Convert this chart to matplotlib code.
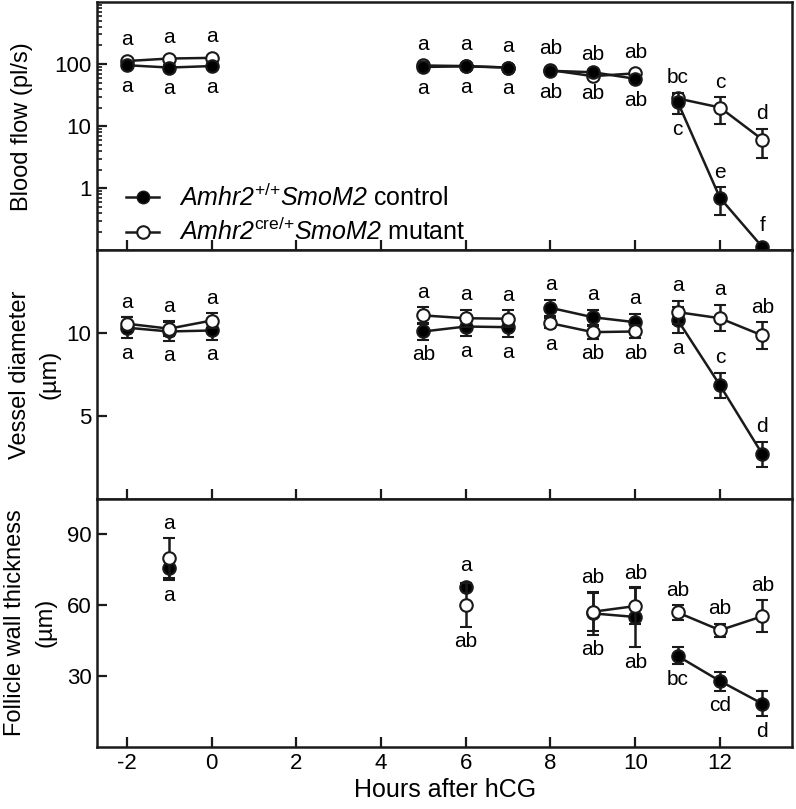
import numpy as np
import matplotlib.pyplot as plt
from matplotlib.lines import Line2D
from matplotlib.ticker import LogLocator, NullFormatter

plt.rcParams['font.family'] = 'Liberation Sans'
plt.rcParams['axes.unicode_minus'] = False
plt.rcParams['mathtext.fontset'] = 'custom'
plt.rcParams['mathtext.rm'] = 'Liberation Sans:italic'
plt.rcParams['mathtext.it'] = 'Liberation Sans:italic'
plt.rcParams['mathtext.sf'] = 'Liberation Sans'

# Blood flow / vessel diameter time points (hours after hCG)
hours = np.array([-2, -1, 0, 5, 6, 7, 8, 9, 10, 11, 12, 13])
hour_groups = np.array([0, 0, 0, 1, 1, 1, 2, 2, 2, 3, 3, 3])

# Blood flow (pl/s)
flow_ctrl = np.array([96, 88, 93, 90, 92, 88, 78, 74, 58, 24.7, 0.70, 0.113])
flow_ctrl_err = np.array([8, 8, 8, 6, 6, 6, 8, 7, 6, 9, 0.33, 0.01])
flow_mut = np.array([112, 123, 126, 95, 93, 88, 80, 64, 71, 28, 20, 6.1])
flow_mut_err = np.array([8, 8, 8, 6, 6, 6, 8, 7, 6, 4, 9, 3])
flow_ctrl_letters = ['a', 'a', 'a', 'a', 'a', 'a', 'ab', 'ab', 'ab', 'c', 'e', 'f']
flow_ctrl_side = ['b', 'b', 'b', 'b', 'b', 'b', 'b', 'b', 'b', 'b', 't', 't']
flow_mut_letters = ['a', 'a', 'a', 'a', 'a', 'a', 'ab', 'ab', 'ab', 'bc', 'c', 'd']
flow_mut_side = ['t'] * 12

# Vessel diameter (um)
diam_ctrl = np.array([10.33, 10.1, 10.16, 10.1, 10.4, 10.36, 11.53, 10.96, 10.66, 10.8, 6.85, 2.69])
diam_ctrl_err = np.array([0.65, 0.55, 0.55, 0.5, 0.6, 0.6, 0.5, 0.45, 0.5, 0.8, 0.74, 0.75])
diam_mut = np.array([10.57, 10.27, 10.76, 11.07, 10.9, 10.87, 10.6, 10.06, 10.1, 11.27, 10.9, 9.86])
diam_mut_err = np.array([0.4, 0.45, 0.45, 0.5, 0.5, 0.5, 0.3, 0.4, 0.4, 0.7, 0.8, 0.8])
diam_ctrl_letters = ['a', 'a', 'a', 'ab', 'a', 'a', 'a', 'a', 'a', 'a', 'c', 'd']
diam_ctrl_side = ['b', 'b', 'b', 'b', 'b', 'b', 't', 't', 't', 'b', 't', 't']
diam_mut_letters = ['a', 'a', 'a', 'a', 'a', 'a', 'a', 'ab', 'ab', 'a', 'a', 'ab']
diam_mut_side = ['t', 't', 't', 't', 't', 't', 'b', 'b', 'b', 't', 't', 't']

# Follicle wall thickness (um)
wall_hours = np.array([-1, 6, 9, 10, 11, 12, 13])
wall_groups = np.array([0, 1, 2, 2, 3, 3, 3])
wall_ctrl = np.array([75.6, 67.8, 56.5, 55, 38.5, 27.9, 18.3])
wall_ctrl_err = np.array([5, 1, 9, 12.7, 3.6, 4, 5.3])
wall_mut = np.array([79.8, 60, 57.2, 59.6, 56.9, 49.4, 55.3])
wall_mut_err = np.array([8.5, 9.2, 8, 7.5, 3.1, 2.8, 6.8])
wall_ctrl_letters = ['a', 'a', 'ab', 'ab', 'bc', 'cd', 'd']
wall_ctrl_side = ['b', 't', 'b', 'b', 'b', 'b', 'b']
wall_mut_letters = ['a', 'ab', 'ab', 'ab', 'ab', 'ab', 'ab']
wall_mut_side = ['t', 'b', 't', 't', 't', 't', 't']

ink = '#1a1a1a'
ms = 9
lw = 1.8


def draw_series(ax, x, y, err, groups, face, z):
    for g in np.unique(groups):
        sel = groups == g
        ax.errorbar(x[sel], y[sel], yerr=err[sel], fmt='-o', color=ink, mfc=face,
                    mec=ink, mew=1.5, ms=ms, lw=lw, elinewidth=lw, capsize=4,
                    capthick=lw, zorder=z, clip_on=False)


def add_letters(ax, x, y, err, letters, sides):
    fig.canvas.draw()
    for xi, yi, ei, txt, sd in zip(x, y, err, letters, sides):
        sign = 1 if sd == 't' else -1
        p0 = ax.transData.transform((xi, yi))[1]
        p1 = ax.transData.transform((xi, yi + sign * ei))[1]
        err_pt = abs(p1 - p0) * 72 / fig.dpi
        off = max(err_pt, ms / 2) + 4
        ax.annotate(txt, (xi, yi), xytext=(0, sign * off), textcoords='offset points',
                    ha='center', va='bottom' if sign > 0 else 'top', fontsize=15)


fig, axes = plt.subplots(3, 1, figsize=(7.96, 8.09), dpi=100, sharex=True)
fig.subplots_adjust(left=0.122, right=0.995, top=0.9975, bottom=0.0766, hspace=0)
ax1, ax2, ax3 = axes

ax1.set_yscale('log')
ax1.set_ylim(0.1, 1000)
ax1.set_yticks([1, 10, 100], ['1', '10', '100'])
ax1.yaxis.set_minor_locator(LogLocator(base=10, subs=np.arange(2, 10)))
ax1.yaxis.set_minor_formatter(NullFormatter())
ax2.set_ylim(0, 15)
ax2.set_yticks([5, 10])
ax3.set_ylim(0, 105)
ax3.set_yticks([30, 60, 90])
ax3.set_xlim(-2.7, 13.7)
ax3.set_xticks(np.arange(-2, 13, 2))

for ax in axes:
    for s in ax.spines.values():
        s.set_linewidth(1.8)
        s.set_color(ink)
    ax.tick_params(direction='in', length=7, width=1.6, labelsize=16, color=ink, pad=4)
    ax.tick_params(which='minor', direction='in', length=3.5, width=1.2, color=ink)

draw_series(ax1, hours, flow_mut, flow_mut_err, hour_groups, 'white', 3)
draw_series(ax1, hours, flow_ctrl, flow_ctrl_err, hour_groups, 'black', 4)
draw_series(ax2, hours, diam_ctrl, diam_ctrl_err, hour_groups, 'black', 3)
draw_series(ax2, hours, diam_mut, diam_mut_err, hour_groups, 'white', 4)
draw_series(ax3, wall_hours, wall_ctrl, wall_ctrl_err, wall_groups, 'black', 3)
draw_series(ax3, wall_hours, wall_mut, wall_mut_err, wall_groups, 'white', 4)

add_letters(ax1, hours, flow_ctrl, flow_ctrl_err, flow_ctrl_letters, flow_ctrl_side)
add_letters(ax1, hours, flow_mut, flow_mut_err, flow_mut_letters, flow_mut_side)
add_letters(ax2, hours, diam_ctrl, diam_ctrl_err, diam_ctrl_letters, diam_ctrl_side)
add_letters(ax2, hours, diam_mut, diam_mut_err, diam_mut_letters, diam_mut_side)
add_letters(ax3, wall_hours, wall_ctrl, wall_ctrl_err, wall_ctrl_letters, wall_ctrl_side)
add_letters(ax3, wall_hours, wall_mut, wall_mut_err, wall_mut_letters, wall_mut_side)

ax1.set_ylabel('Blood flow (pl/s)', fontsize=17)
ax2.set_ylabel('Vessel diameter\n(\u00b5m)', fontsize=17, linespacing=1.45)
ax3.set_ylabel('Follicle wall thickness\n(\u00b5m)', fontsize=17, linespacing=1.45)
ax1.yaxis.set_label_coords(-0.092, 0.5)
ax2.yaxis.set_label_coords(-0.052, 0.5)
ax3.yaxis.set_label_coords(-0.059, 0.5)
ax3.set_xlabel('Hours after hCG', fontsize=18, labelpad=3)

handles = [
    Line2D([], [], color=ink, lw=lw, marker='o', ms=ms, mfc='black', mec=ink),
    Line2D([], [], color=ink, lw=lw, marker='o', ms=ms, mfc='white', mec=ink, mew=1.5),
]
labels = [r'$\mathrm{Amhr2}^{\mathsf{{+}/{+}}}\mathrm{SmoM2}$ control',
          r'$\mathrm{Amhr2}^{\mathsf{cre/{+}}}\mathrm{SmoM2}$ mutant']
ax1.legend(handles, labels, loc='lower left', bbox_to_anchor=(0.042, 0.02),
           frameon=False, fontsize=18, handlelength=1.3, handletextpad=0.8,
           labelspacing=0.3, borderaxespad=0, borderpad=0)

fig.savefig('out.png', dpi=100)
